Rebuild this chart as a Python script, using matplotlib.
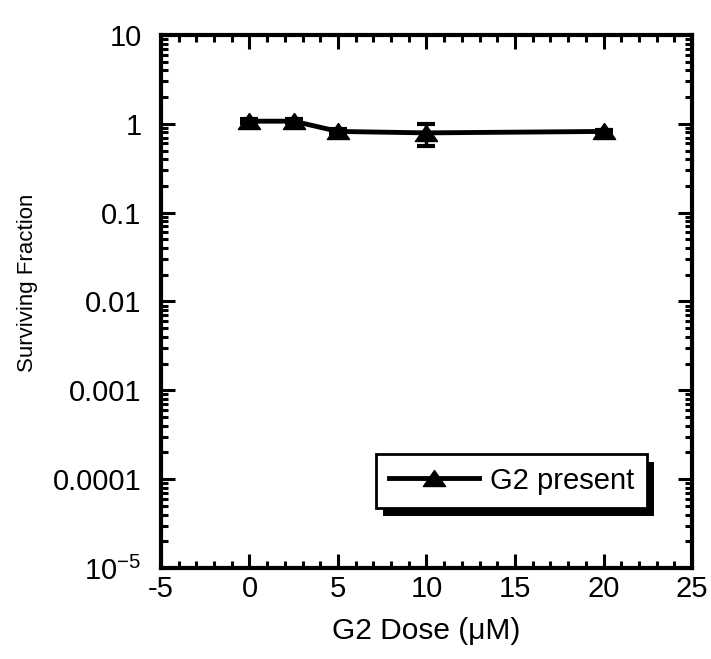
import numpy as np
import matplotlib
matplotlib.use("Agg")
import matplotlib.pyplot as plt
import matplotlib.ticker as ticker
import matplotlib.patheffects as pe

# data
dose = [0, 2.5, 5, 10, 20]
surviving = [1.07, 1.07, 0.82, 0.79, 0.82]
err_low = [0.05, 0.05, 0.05, 0.23, 0.04]
err_high = [0.05, 0.05, 0.05, 0.20, 0.04]

ytick_vals = [1e-5, 1e-4, 1e-3, 1e-2, 1e-1, 1, 10]
ytick_labels = ["10$^{-5}$", "0.0001", "0.001", "0.01", "0.1", "1", "10"]
xtick_vals = [-5, 0, 5, 10, 15, 20, 25]

plt.rcParams["font.family"] = ["Liberation Sans", "DejaVu Sans"]
plt.rcParams["mathtext.fontset"] = "custom"
plt.rcParams["mathtext.rm"] = "Liberation Sans"
plt.rcParams["axes.unicode_minus"] = False

# squat triangle like the original
tri = [(0, 0.72), (-1, -0.72), (1, -0.72), (0, 0.72)]

fig = plt.figure(figsize=(7.11, 6.59), dpi=100)
ax = fig.add_axes([0.2264, 0.138, 0.7469, 0.809])

ax.errorbar(dose, surviving, yerr=[err_low, err_high], fmt="none", ecolor="black",
            capsize=6.5, capthick=3, elinewidth=2.5)
ax.plot(dose, surviving, "-", marker=tri, color="black", lw=3.5, ms=16, label="G2 present")

ax.set_yscale("log")
ax.set_ylim(1e-5, 10)
ax.set_xlim(-5, 25)

ax.set_yticks(ytick_vals)
ax.set_yticklabels(ytick_labels)
ax.yaxis.set_minor_locator(ticker.LogLocator(base=10, subs=np.arange(2, 10), numticks=20))
ax.yaxis.set_minor_formatter(ticker.NullFormatter())
ax.set_xticks(xtick_vals)
ax.xaxis.set_minor_locator(ticker.MultipleLocator(1))

for s in ax.spines.values():
    s.set_linewidth(3)
ax.tick_params(which="both", direction="in", top=True, right=True, width=2.2, labelsize=21)
ax.tick_params(which="major", length=10)
ax.tick_params(which="minor", length=5)
ax.tick_params(axis="y", pad=14)
ax.tick_params(axis="x", pad=5)

ax.set_xlabel("G2 Dose (\u03bcM)", fontsize=21.5, labelpad=10)
ax.set_ylabel("Surviving Fraction", fontsize=16)
ax.yaxis.set_label_coords(-0.232, 0.535)

leg = ax.legend(loc="lower right", bbox_to_anchor=(0.915, 0.113), borderaxespad=0,
                fontsize=21, frameon=True, fancybox=False, edgecolor="black",
                facecolor="white", framealpha=1, handlelength=3.1, handletextpad=0.35,
                numpoints=1, borderpad=0.45)
leg.get_frame().set_linewidth(2)
leg.get_frame().set_path_effects([pe.SimplePatchShadow(offset=(5, -6), shadow_rgbFace="black", alpha=1),
                                  pe.Normal()])

fig.savefig("out.png", dpi=100)
